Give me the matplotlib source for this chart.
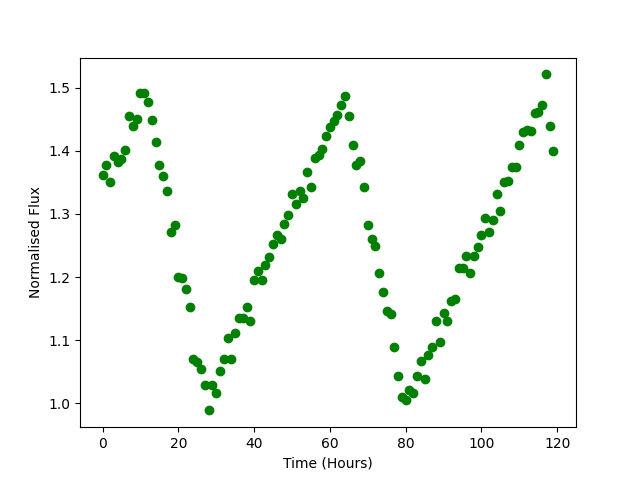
import numpy as np
import matplotlib
matplotlib.use("Agg")
import matplotlib.pyplot as plt

# Time in hours, one sample per hour
hours = np.arange(120)

# Normalised flux
flux = [
    1.361, 1.378, 1.351, 1.392, 1.383, 1.387, 1.402, 1.455, 1.440, 1.451,
    1.492, 1.492, 1.477, 1.449, 1.414, 1.378, 1.360, 1.337, 1.272, 1.283,
    1.201, 1.199, 1.182, 1.153, 1.071, 1.065, 1.054, 1.030, 0.989, 1.029,
    1.016, 1.052, 1.070, 1.103, 1.070, 1.111, 1.136, 1.135, 1.152, 1.130,
    1.195, 1.210, 1.196, 1.220, 1.232, 1.252, 1.266, 1.261, 1.284, 1.298,
    1.332, 1.316, 1.337, 1.326, 1.367, 1.342, 1.388, 1.394, 1.403, 1.424,
    1.438, 1.448, 1.457, 1.472, 1.487, 1.455, 1.410, 1.378, 1.384, 1.343,
    1.282, 1.261, 1.250, 1.206, 1.176, 1.146, 1.142, 1.089, 1.044, 1.011,
    1.005, 1.021, 1.017, 1.044, 1.068, 1.038, 1.076, 1.090, 1.130, 1.097,
    1.144, 1.131, 1.163, 1.165, 1.214, 1.215, 1.233, 1.206, 1.234, 1.247,
    1.266, 1.293, 1.272, 1.291, 1.332, 1.304, 1.351, 1.353, 1.375, 1.375,
    1.410, 1.430, 1.433, 1.432, 1.460, 1.462, 1.473, 1.521, 1.440, 1.400,
]

fig, ax = plt.subplots(figsize=(6.4, 4.8), dpi=100)
ax.plot(hours, flux, "o", color="green")
ax.set_xlabel("Time (Hours)")
ax.set_ylabel("Normalised Flux")
plt.savefig("out.png", dpi=100)
plt.close()
